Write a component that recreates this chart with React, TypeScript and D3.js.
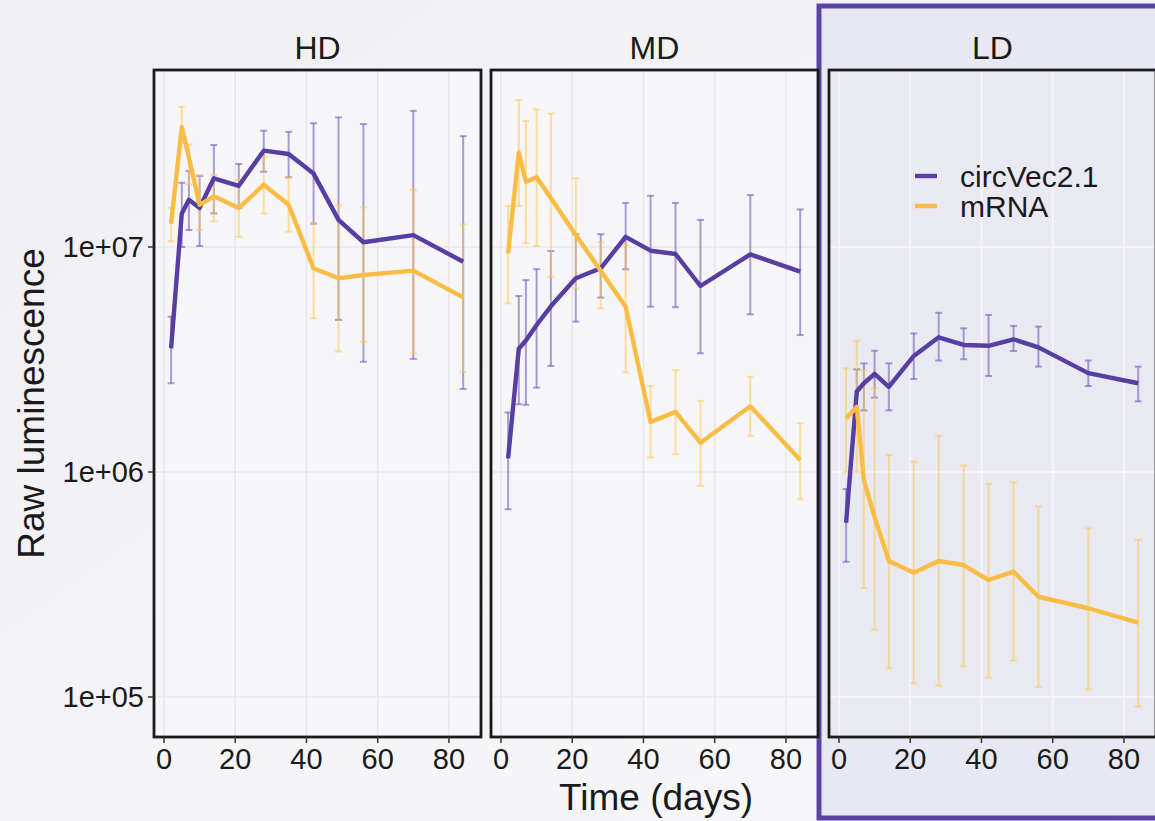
import React from "react";
import * as d3 from "d3";

const days = [2, 5, 7, 10, 14, 21, 28, 35, 42, 49, 56, 70, 84];
const panels = ["HD", "MD", "LD"];
const seriesNames = ["circVec2.1", "mRNA"];
const xTicks = [0, 20, 40, 60, 80];
const yTicks = [1e5, 1e6, 1e7];
const yTickLabels = ["1e+05", "1e+06", "1e+07"];

// HD
const hdCircMean = [3.55e6, 1.41e7, 1.62e7, 1.49e7, 2.02e7, 1.87e7, 2.68e7, 2.59e7, 2.12e7, 1.32e7, 1.05e7, 1.13e7, 8.6e6];
const hdCircLo = [2.48e6, 1.0e7, 1.19e7, 1.01e7, 1.41e7, 1.49e7, 2.16e7, 2.04e7, 1.27e7, 4.74e6, 3.09e6, 3.18e6, 2.34e6];
const hdCircHi = [4.9e6, 1.93e7, 2.18e7, 2.07e7, 2.84e7, 2.34e7, 3.29e7, 3.25e7, 3.55e7, 3.77e7, 3.52e7, 4.03e7, 3.11e7];
const hdMrnaMean = [1.27e7, 3.42e7, 2.5e7, 1.54e7, 1.68e7, 1.49e7, 1.89e7, 1.54e7, 8.04e6, 7.26e6, 7.51e6, 7.85e6, 5.97e6];
const hdMrnaLo = [1.06e7, 2.9e7, 1.9e7, 1.19e7, 1.3e7, 1.11e7, 1.41e7, 1.17e7, 4.82e6, 3.43e6, 3.79e6, 3.37e6, 2.79e6];
const hdMrnaHi = [1.49e7, 4.2e7, 2.86e7, 2.09e7, 2.09e7, 1.99e7, 2.52e7, 2.04e7, 1.28e7, 1.53e7, 1.5e7, 1.79e7, 1.26e7];

// MD
const mdCircMean = [1.15e6, 3.53e6, 3.84e6, 4.5e6, 5.45e6, 7.26e6, 8.04e6, 1.11e7, 9.63e6, 9.31e6, 6.71e6, 9.28e6, 7.77e6];
const mdCircLo = [6.83e5, 2.0e6, 1.99e6, 2.37e6, 2.96e6, 4.66e6, 5.96e6, 7.96e6, 5.43e6, 5.4e6, 3.37e6, 5.02e6, 4.06e6];
const mdCircHi = [1.84e6, 6.06e6, 7.13e6, 7.97e6, 9.6e6, 1.14e7, 1.14e7, 1.57e7, 1.69e7, 1.57e7, 1.32e7, 1.7e7, 1.47e7];
const mdMrnaMean = [9.38e6, 2.63e7, 1.95e7, 2.04e7, 1.65e7, 1.13e7, 7.85e6, 5.43e6, 1.67e6, 1.85e6, 1.35e6, 1.96e6, 1.13e6];
const mdMrnaLo = [5.62e6, 1.52e7, 1.04e7, 1.01e7, 7.38e6, 6.55e6, 5.33e6, 2.77e6, 1.16e6, 1.2e6, 8.67e5, 1.45e6, 7.56e5];
const mdMrnaHi = [1.52e7, 4.5e7, 3.63e7, 4.09e7, 3.92e7, 2.02e7, 1.05e7, 1.02e7, 2.41e6, 2.84e6, 2.07e6, 2.65e6, 1.65e6];

// LD
const ldCircMean = [5.95e5, 2.28e6, 2.48e6, 2.73e6, 2.39e6, 3.28e6, 3.97e6, 3.67e6, 3.64e6, 3.89e6, 3.58e6, 2.75e6, 2.48e6];
const ldCircLo = [3.99e5, 1.73e6, 1.88e6, 2.14e6, 1.88e6, 2.59e6, 3.13e6, 3.17e6, 2.67e6, 3.45e6, 2.94e6, 2.41e6, 2.06e6];
const ldCircHi = [8.4e5, 2.86e6, 3.04e6, 3.46e6, 3.04e6, 4.13e6, 5.1e6, 4.35e6, 4.99e6, 4.46e6, 4.43e6, 3.13e6, 2.94e6];
const ldMrnaMean = [1.73e6, 1.95e6, 9.2e5, 6.3e5, 4.02e5, 3.57e5, 4.02e5, 3.86e5, 3.31e5, 3.61e5, 2.79e5, 2.48e5, 2.14e5];
const ldMrnaLo = [1.0e6, 1.0e6, 3.04e5, 1.99e5, 1.34e5, 1.15e5, 1.12e5, 1.37e5, 1.22e5, 1.45e5, 1.11e5, 1.08e5, 9.06e4];
const ldMrnaHi = [2.89e6, 3.83e6, 2.83e6, 2.36e6, 1.19e6, 1.11e6, 1.45e6, 1.07e6, 8.85e5, 9.0e5, 7.02e5, 5.62e5, 4.99e5];

const panelData = [
  [
    { mean: hdCircMean, lo: hdCircLo, hi: hdCircHi },
    { mean: hdMrnaMean, lo: hdMrnaLo, hi: hdMrnaHi },
  ],
  [
    { mean: mdCircMean, lo: mdCircLo, hi: mdCircHi },
    { mean: mdMrnaMean, lo: mdMrnaLo, hi: mdMrnaHi },
  ],
  [
    { mean: ldCircMean, lo: ldCircLo, hi: ldCircHi },
    { mean: ldMrnaMean, lo: ldMrnaLo, hi: ldMrnaHi },
  ],
];

const colors = ["#583da3", "#f9bd45"];
const errColors = ["#6a52b8", "#fcc94f"];
const errOpacity = [0.55, 0.55];
const FONT = "'Liberation Sans', Arial, Helvetica, sans-serif";

const W = 1155;
const H = 821;
const panelLefts = [154, 491, 829];
const panelW = 327;
const top = 70;
const bottom = 737;

export default function App() {
  const y = d3.scaleLog().domain([6.64e4, 6.12e7]).range([bottom, top]);
  const line = (xs: d3.ScaleLinear<number, number>) =>
    d3
      .line<number>()
      .x((_, i) => xs(days[i]))
      .y((v) => y(v));

  return (
    <svg
      width={W}
      height={H}
      style={{ position: "absolute", left: 0, top: 0, display: "block" }}
      fontFamily={FONT}
    >
      <defs>
        <linearGradient id="bg" x1="0" y1="0" x2="1" y2="1">
          <stop offset="0" stopColor="#efeff3" />
          <stop offset="1" stopColor="#f8f8fa" />
        </linearGradient>
      </defs>
      <rect x={0} y={0} width={W} height={H} fill="url(#bg)" />
      {/* LD highlight */}
      <rect x={819} y={6} width={400} height={812} fill="#e8e8f2" stroke="#5b43a6" strokeWidth={5} />

      {panels.map((p, pi) => {
        const x0 = panelLefts[pi];
        const xs = d3.scaleLinear().domain([-2.8, 89.0]).range([x0, x0 + panelW]);
        const isLD = pi === 2;
        const gridColor = isLD ? "#f7f7fb" : "#e7e7eb";
        return (
          <g key={p}>
            <rect x={x0} y={top} width={panelW} height={bottom - top} fill={isLD ? "#e9e9f2" : "#f6f6f9"} />
            {xTicks.map((t) => (
              <line key={"gx" + t} x1={xs(t)} x2={xs(t)} y1={top} y2={bottom} stroke={gridColor} strokeWidth={1.6} />
            ))}
            {yTicks.map((t) => (
              <line key={"gy" + t} x1={x0} x2={x0 + panelW} y1={y(t)} y2={y(t)} stroke={gridColor} strokeWidth={1.6} />
            ))}
            {/* error bars */}
            {panelData[pi].map((s, si) => (
              <g key={"err" + si} stroke={errColors[si]} strokeOpacity={errOpacity[si]} strokeWidth={2}>
                {days.map((d, i) => (
                  <g key={d}>
                    <line x1={xs(d)} x2={xs(d)} y1={y(s.lo[i])} y2={y(s.hi[i])} />
                    <line x1={xs(d) - 3.5} x2={xs(d) + 3.5} y1={y(s.lo[i])} y2={y(s.lo[i])} />
                    <line x1={xs(d) - 3.5} x2={xs(d) + 3.5} y1={y(s.hi[i])} y2={y(s.hi[i])} />
                  </g>
                ))}
              </g>
            ))}
            {/* lines */}
            {panelData[pi].map((s, si) => (
              <path
                key={"ln" + si}
                d={line(xs)(s.mean) || ""}
                fill="none"
                stroke={colors[si]}
                strokeWidth={4.4}
                strokeLinejoin="round"
              />
            ))}
            <rect x={x0} y={top} width={panelW} height={bottom - top} fill="none" stroke="#1a1a1a" strokeWidth={2.8} />
            {/* strip label */}
            <text x={x0 + panelW / 2} y={59} textAnchor="middle" fontSize={32} fill="#1a1a1a">
              {p}
            </text>
            {/* x ticks */}
            {xTicks.map((t) => (
              <g key={"xt" + t}>
                <line x1={xs(t)} x2={xs(t)} y1={bottom} y2={bottom + 6} stroke="#333" strokeWidth={1.5} />
                <text x={xs(t)} y={769} textAnchor="middle" fontSize={29} fill="#1a1a1a">
                  {t}
                </text>
              </g>
            ))}
          </g>
        );
      })}

      {/* y axis ticks & labels */}
      {yTicks.map((t, i) => (
        <g key={"yt" + t}>
          <line x1={148} x2={154} y1={y(t)} y2={y(t)} stroke="#333" strokeWidth={1.5} />
          <text x={144} y={y(t)} dy="0.36em" textAnchor="end" fontSize={29} fill="#1a1a1a">
            {yTickLabels[i]}
          </text>
        </g>
      ))}

      {/* axis titles */}
      <text
        transform={`translate(44, ${(top + bottom) / 2}) rotate(-90)`}
        textAnchor="middle"
        fontSize={37}
        fill="#1a1a1a"
      >
        Raw luminescence
      </text>
      <text x={656} y={810} textAnchor="middle" fontSize={37} fill="#1a1a1a">
        Time (days)
      </text>

      {/* legend */}
      {seriesNames.map((n, i) => (
        <g key={n}>
          <line x1={915} x2={937} y1={176 + i * 30} y2={176 + i * 30} stroke={colors[i]} strokeWidth={4.4} />
          <text x={960} y={176 + i * 30} dy="0.36em" fontSize={30} fill="#1a1a1a">
            {n}
          </text>
        </g>
      ))}
    </svg>
  );
}
